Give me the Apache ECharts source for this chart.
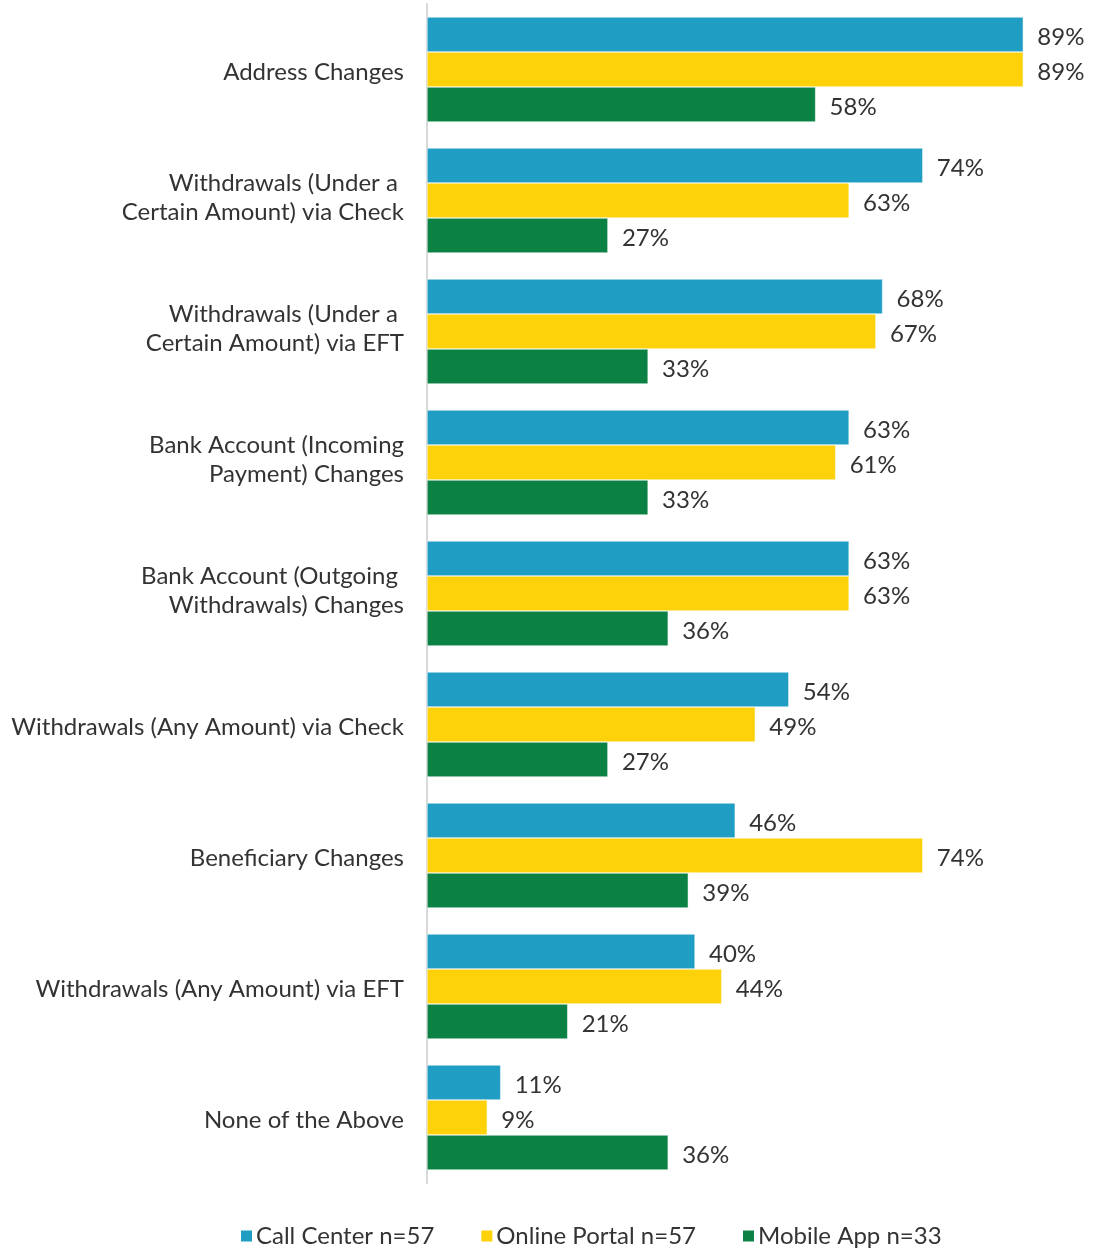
<!DOCTYPE html>
<html><head><meta charset="utf-8">
<script src="https://cdn.jsdelivr.net/npm/echarts@6/dist/echarts.min.js"></script>
<style>html,body{margin:0;padding:0;background:#fff}#c{width:1094px;height:1249px}</style>
</head><body><div id="c"></div>
<script>
const categories = [
  'Address Changes',
  'Withdrawals (Under a \nCertain Amount) via Check',
  'Withdrawals (Under a \nCertain Amount) via EFT',
  'Bank Account (Incoming\nPayment) Changes',
  'Bank Account (Outgoing \nWithdrawals) Changes',
  'Withdrawals (Any Amount) via Check',
  'Beneficiary Changes',
  'Withdrawals (Any Amount) via EFT',
  'None of the Above'
];
const callCenter = [89, 74, 68, 63, 63, 54, 46, 40, 11];
const onlinePortal = [89, 63, 67, 61, 63, 49, 74, 44, 9];
const mobileApp = [58, 27, 33, 33, 36, 27, 39, 21, 36];
const seriesNames = ['Call Center n=57', 'Online Portal n=57', 'Mobile App n=33'];
const colors = ['#1f9dc3', '#fdd20b', '#0b8244'];

const FONT = 'Lato, "Open Sans", sans-serif';
const chart = echarts.init(document.getElementById('c'));
const mk = (name, data, color) => ({
  name, type: 'bar', data, barWidth: 35, barGap: '0%',
  itemStyle: { color, borderColor: '#fff', borderWidth: 0.5 },
  label: { show: true, position: 'right', distance: 14, offset: [0, 3], formatter: '{c}%',
    fontFamily: FONT, fontSize: 24, color: '#333' }
});
chart.setOption({
  animation: false,
  color: colors,
  grid: { left: 427, right: 64, top: 4, bottom: 66, containLabel: false },
  xAxis: { type: 'value', min: 0, max: 90, show: false, splitLine: { show: false } },
  yAxis: {
    type: 'category', data: categories, inverse: true,
    axisLine: { lineStyle: { color: '#d9d9d9', width: 2 } },
    axisTick: { show: false },
    axisLabel: {
      margin: 23, fontFamily: FONT, fontSize: 24, color: '#333', align: 'right',
      formatter: v => {
        const parts = v.split('\n');
        const k = parts.length > 1 ? 'b' : 'a';
        return parts.map(s => '{' + k + '|' + s + '}').join('\n');
      },
      rich: {
        a: { fontFamily: FONT, fontSize: 24, color: '#333', lineHeight: 23, padding: [6, 0, 0, 0] },
        b: { fontFamily: FONT, fontSize: 24, color: '#333', lineHeight: 29, padding: [0, 0, 6, 0] }
      }
    }
  },
  legend: {
    top: 1219, left: 234, icon: 'rect', itemWidth: 13, itemHeight: 13, itemGap: 45,
    textStyle: { fontFamily: FONT, fontSize: 24, color: '#333', padding: [2, 0, 0, -2] }
  },
  series: [mk(seriesNames[0], callCenter, colors[0]), mk(seriesNames[1], onlinePortal, colors[1]), mk(seriesNames[2], mobileApp, colors[2])]
});
</script></body></html>
